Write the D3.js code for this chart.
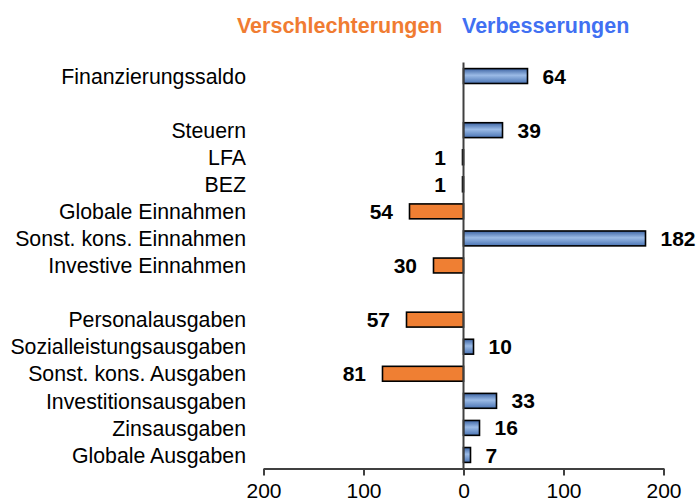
<!DOCTYPE html>
<html>
<head>
<meta charset="utf-8">
<script src="https://cdn.jsdelivr.net/npm/d3@7/dist/d3.min.js"></script>
<style>
  html, body { margin: 0; padding: 0; background: #fff; }
  svg { display: block; }
  text { font-family: "Liberation Sans", Arial, sans-serif; }
</style>
</head>
<body>
<svg id="chart" width="699" height="504"></svg>
<script>
// Categories top to bottom; null marks an empty gap row
const categories = [
  "Finanzierungssaldo", null,
  "Steuern", "LFA", "BEZ", "Globale Einnahmen", "Sonst. kons. Einnahmen", "Investive Einnahmen", null,
  "Personalausgaben", "Sozialleistungsausgaben", "Sonst. kons. Ausgaben", "Investitionsausgaben", "Zinsausgaben", "Globale Ausgaben"
];
// Signed changes: positive = Verbesserungen, negative = Verschlechterungen
const values = [64, null, 39, -1, -1, -54, 182, -30, null, -57, 10, -81, 33, 16, 7];
const tickValues = [-200, -100, 0, 100, 200];
const tickLabels = ["200", "100", "0", "100", "200"];
const headerLeft = "Verschlechterungen";
const headerRight = "Verbesserungen";

const svg = d3.select("#chart");
const x = d3.scaleLinear().domain([-200, 200]).range([263.5, 663.5]);
const y = d3.scaleBand()
  .domain(d3.range(categories.length))
  .range([62.5, 468.5])
  .paddingInner(0.45)
  .paddingOuter(0.225);

const defs = svg.append("defs");
const grad = defs.append("linearGradient").attr("id", "blueGrad")
  .attr("x1", 0).attr("y1", 0).attr("x2", 0).attr("y2", 1);
grad.append("stop").attr("offset", "0%").attr("stop-color", "#3d64a3");
grad.append("stop").attr("offset", "45%").attr("stop-color", "#9bbbe6");
grad.append("stop").attr("offset", "100%").attr("stop-color", "#4a74b4");

const rows = categories.map((c, i) => ({ c, v: values[i], i })).filter(d => d.c !== null);

// Category labels
svg.append("g").selectAll("text").data(rows).join("text")
  .attr("x", x(-200) - 17.5)
  .attr("y", d => y(d.i) + y.bandwidth() / 2)
  .attr("dy", "0.36em")
  .attr("text-anchor", "end")
  .attr("font-size", 21.3)
  .attr("fill", "#000")
  .text(d => d.c);

// Bars
svg.append("g").selectAll("rect").data(rows).join("rect")
  .attr("x", d => x(Math.min(0, d.v)))
  .attr("y", d => y(d.i))
  .attr("width", d => Math.abs(x(d.v) - x(0)))
  .attr("height", y.bandwidth())
  .attr("fill", d => d.v >= 0 ? "url(#blueGrad)" : "#ef7f33")
  .attr("stroke", "#000")
  .attr("stroke-width", 1.6);

// Value labels
svg.append("g").selectAll("text").data(rows).join("text")
  .attr("x", d => d.v >= 0 ? x(d.v) + 15 : x(d.v) - 16.5)
  .attr("y", d => y(d.i) + y.bandwidth() / 2)
  .attr("dy", "0.36em")
  .attr("text-anchor", d => d.v >= 0 ? "start" : "end")
  .attr("font-size", 21)
  .attr("font-weight", "bold")
  .attr("fill", "#000")
  .text(d => Math.abs(d.v));

// Zero line
svg.append("line")
  .attr("x1", x(0)).attr("x2", x(0))
  .attr("y1", y.range()[0]).attr("y2", y.range()[1])
  .attr("stroke", "#404040").attr("stroke-width", 2);

// X axis
const axis = d3.axisBottom(x).tickValues(tickValues)
  .tickFormat((d, i) => tickLabels[i]).tickSize(7).tickSizeOuter(0);
const gx = svg.append("g").attr("transform", `translate(0,${y.range()[1]})`).call(axis);
gx.select(".domain").attr("stroke", "#404040").attr("stroke-width", 2);
gx.selectAll(".tick line").attr("stroke", "#404040").attr("stroke-width", 2);
gx.selectAll(".tick text").attr("font-size", 21).attr("font-family", "Liberation Sans, Arial, sans-serif")
  .attr("fill", "#000").attr("dy", "0.71em").attr("y", 14.5);

// Headers
svg.append("text")
  .attr("x", x(0) - 21).attr("y", 33)
  .attr("text-anchor", "end")
  .attr("font-size", 21.5).attr("font-weight", "bold")
  .attr("fill", "#f07c32")
  .text(headerLeft);
svg.append("text")
  .attr("x", x(0) - 1.5).attr("y", 33)
  .attr("text-anchor", "start")
  .attr("font-size", 21.5).attr("font-weight", "bold")
  .attr("fill", "#4170f2")
  .text(headerRight);
</script>
</body>
</html>
